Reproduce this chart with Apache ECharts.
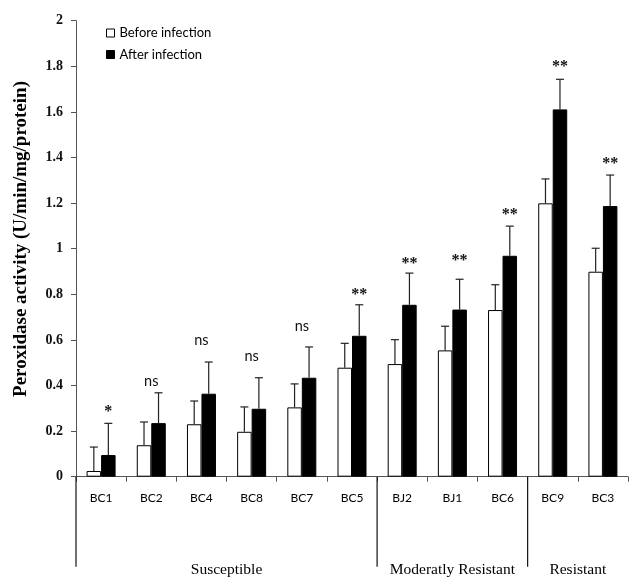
<!DOCTYPE html>
<html>
<head>
<meta charset="utf-8">
<script src="https://cdn.jsdelivr.net/npm/echarts@6/dist/echarts.min.js"></script>
<style>html,body{margin:0;padding:0;background:#fff}#c{width:629px;height:581px}</style>
</head>
<body>
<div id="c"></div>
<script>
const categories = ['BC1','BC2','BC4','BC8','BC7','BC5','BJ2','BJ1','BC6','BC9','BC3'];
const beforeInfection = [0.025,0.138,0.23,0.197,0.304,0.478,0.494,0.554,0.731,1.199,0.899];
const afterInfection = [0.095,0.235,0.364,0.298,0.434,0.618,0.754,0.733,0.969,1.611,1.187];
const beforeErr = [0.105,0.102,0.102,0.109,0.103,0.107,0.107,0.106,0.111,0.107,0.103];
const afterErr = [0.139,0.133,0.139,0.136,0.135,0.136,0.139,0.133,0.130,0.132,0.136];
const sigLabels = ['*','ns','ns','ns','ns','**','**','**','**','**','**'];
const sigPos = [0.301,0.417,0.600,0.529,0.661,0.816,0.950,0.965,1.167,1.813,1.389];
const groupNames = ['Susceptible','Moderatly Resistant','Resistant'];
const groupStart = [0,6,9];
const groupEnd = [5,8,10];
const yTicks = {min:0, max:2, interval:0.2};

const BAR_W = 14.5;
const chart = echarts.init(document.getElementById('c'), null, {renderer:'canvas'});

function errRender(sign){
  return function(params, api){
    const i = api.value(0);
    const x = api.coord([i,0])[0] + sign*BAR_W/2;
    const y1 = api.coord([i, api.value(1)])[1];
    const y2 = api.coord([i, api.value(2)])[1];
    const st = {stroke:'#222', lineWidth:1.2};
    return {type:'group', children:[
      {type:'line', shape:{x1:x,y1:y1,x2:x,y2:y2}, style:st},
      {type:'line', shape:{x1:x-4,y1:y2,x2:x+4,y2:y2}, style:st}
    ]};
  };
}

const option = {
  animation:false,
  grid:{left:76, right:1, top:20.7, bottom:104.3},
  legend:{
    orient:'vertical', left:106, top:26.5, padding:0, itemWidth:8, itemHeight:8, itemGap:8.5,
    icon:'rect',
    textStyle:{fontFamily:'Lato', fontSize:13, color:'#000'},
    data:[
      {name:'Before infection', itemStyle:{color:'#fff', borderColor:'#000', borderWidth:1}},
      {name:'After infection', itemStyle:{color:'#000', borderColor:'#000', borderWidth:1}}
    ]
  },
  xAxis:{
    type:'category', data:categories,
    axisLine:{lineStyle:{color:'#555', width:1}},
    axisTick:{show:true, length:5, lineStyle:{color:'#555'}},
    axisLabel:{fontFamily:'Lato', fontSize:12, color:'#000', margin:15}
  },
  yAxis:{
    type:'value', min:yTicks.min, max:yTicks.max, interval:yTicks.interval,
    splitLine:{show:false},
    axisLine:{show:true, lineStyle:{color:'#555', width:1}},
    axisTick:{show:true, length:5, lineStyle:{color:'#555'}},
    axisLabel:{fontFamily:'Liberation Serif', fontWeight:'bold', fontSize:14, color:'#111', margin:13}
  },
  graphic:[{
    type:'text', x:21, y:239, rotation:Math.PI/2,
    style:{text:'Peroxidase activity (U/min/mg/protein)', font:'bold 19px "Liberation Serif"', fill:'#000', align:'center', verticalAlign:'middle'}
  }],
  series:[
    {name:'Before infection', type:'bar', data:beforeInfection, barWidth:BAR_W, barGap:'0%',
     itemStyle:{color:'#fff', borderColor:'#000', borderWidth:1}},
    {name:'After infection', type:'bar', data:afterInfection, barWidth:BAR_W, barGap:'0%',
     itemStyle:{color:'#000', borderColor:'#000', borderWidth:1}},
    {type:'custom', silent:true, z:5, renderItem:errRender(-1),
     data:beforeInfection.map((v,i)=>[i,v,v+beforeErr[i]])},
    {type:'custom', silent:true, z:5, renderItem:errRender(1),
     data:afterInfection.map((v,i)=>[i,v,v+afterErr[i]])},
    {type:'custom', silent:true, z:6,
     renderItem:function(params, api){
       const i = api.value(0);
       const lab = sigLabels[i];
       const p = api.coord([i, api.value(1)]);
       const isNs = lab === 'ns';
       return {type:'text', x:p[0] + (isNs ? 0 : BAR_W/2), y:p[1] + (isNs ? 0 : 4),
         style:{text:lab, align:'center', verticalAlign:'middle', fill:'#111',
           font: isNs ? '14.5px Lato' : 'bold 16px "Liberation Serif"'}};
     },
     data:sigPos.map((v,i)=>[i,v])},
    {type:'custom', silent:true, clip:false, z:6,
     renderItem:function(params, api){
       const g = params.dataIndex;
       const s = api.value(0), e = api.value(1);
       const band = api.size([1,0])[0];
       const y0 = api.coord([s,0])[1];
       const xs = api.coord([s,0])[0] - band/2;
       const xe = api.coord([e,0])[0] + band/2;
       return {type:'group', children:[
         {type:'line', shape:{x1:xs,y1:y0,x2:xs,y2:y0+90}, style:{stroke:'#111', lineWidth:1.2}},
         {type:'text', x:(xs+xe)/2, y:y0+93, style:{text:groupNames[g], align:'center', verticalAlign:'middle', font:'15.5px "Liberation Serif"', fill:'#000'}}
       ]};
     },
     data:groupStart.map((s,i)=>[s, groupEnd[i]])}
  ]
};
chart.setOption(option);
</script>
</body>
</html>
